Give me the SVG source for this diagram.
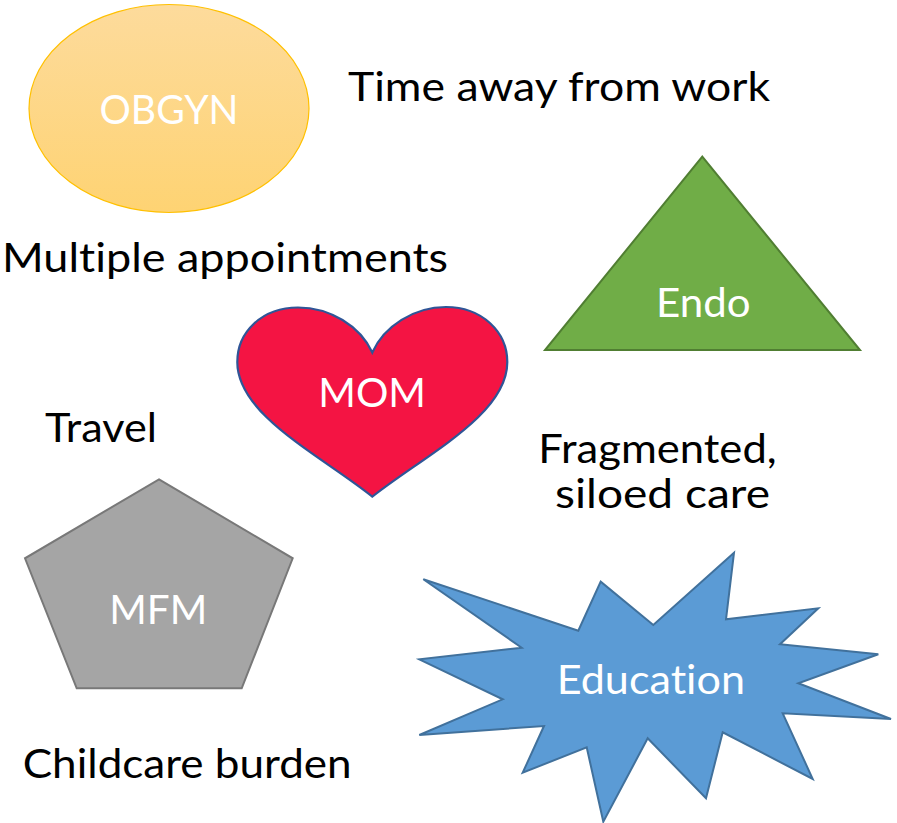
<svg xmlns="http://www.w3.org/2000/svg" width="897" height="823" viewBox="0 0 897 823">
  <style>
    text { font-family: Lato, "Open Sans", "Liberation Sans", sans-serif; font-size: 41px; font-variant-ligatures: none; }
    .lbl { fill: #000000; }
    .in { fill: #ffffff; }
  </style>
  <defs>
    <linearGradient id="obgynFill" x1="0" y1="0" x2="0" y2="1">
      <stop offset="0" stop-color="#fddb9c"/>
      <stop offset="1" stop-color="#fed373"/>
    </linearGradient>
  </defs>

  <rect width="897" height="823" fill="#ffffff"/>

  <!-- specialty shapes -->
  <g id="obgyn">
    <ellipse cx="169" cy="108.5" rx="140" ry="104" fill="url(#obgynFill)" stroke="#ffc000" stroke-width="1.2"/>
    <text class="in" x="99.5" y="124" textLength="139" lengthAdjust="spacingAndGlyphs">OBGYN</text>
  </g>

  <g id="endo">
    <polygon points="702.3,156.7 860,350 545,350" fill="#70ad47" stroke="#507e32" stroke-width="2"/>
    <text class="in" x="656" y="316.7" textLength="94.5" lengthAdjust="spacingAndGlyphs">Endo</text>
  </g>

  <g id="mom">
    <path d="M372.3,352.5 C360,326 330,307.5 298,307.5 C262,307.5 237.3,332 237.3,362 C237.3,415 320,455 372.3,496.7 C425,455 507.3,415 507.3,362 C507.3,332 482,307 446,307 C414,307 384,326 372.3,352.5 Z" fill="#f41443" stroke="#2f5597" stroke-width="2.2"/>
    <text class="in" x="318.3" y="407" textLength="107.7" lengthAdjust="spacingAndGlyphs">MOM</text>
  </g>

  <g id="mfm">
    <polygon points="159,479.3 292.7,558.3 241.7,688.3 76.7,688.3 25,558.3" fill="#a5a5a5" stroke="#787878" stroke-width="2"/>
    <text class="in" x="109.3" y="624" textLength="98" lengthAdjust="spacingAndGlyphs">MFM</text>
  </g>

  <g id="education">
    <polygon points="423.3,579.3 578.3,630.7 600.7,581.7 653.3,625 734,552.7 726,619.3 818.3,608.3 780,644.3 878.3,654.3 798.3,683.3 891,719 782.7,713.3 812.7,779 722.7,732.3 706,798.3 647.7,738.3 603.3,821.7 586.7,747.3 522.7,772.7 544,726 419.3,735 502.7,699.3 419.3,659.3 521.7,647.7" fill="#5b9bd5" stroke="#41719c" stroke-width="2" stroke-linejoin="miter"/>
    <text class="in" x="556.7" y="694.3" textLength="188.3" lengthAdjust="spacingAndGlyphs">Education</text>
  </g>

  <!-- burden labels -->
  <g id="time-away">
    <text class="lbl" x="348" y="100.5" textLength="422" lengthAdjust="spacingAndGlyphs">Time away from work</text>
  </g>
  <g id="multiple-appointments">
    <text class="lbl" x="2" y="271.7" textLength="446" lengthAdjust="spacingAndGlyphs">Multiple appointments</text>
  </g>
  <g id="travel">
    <text class="lbl" x="45" y="441.7" textLength="112" lengthAdjust="spacingAndGlyphs">Travel</text>
  </g>
  <g id="fragmented-care">
    <text class="lbl" x="538.3" y="462.7" textLength="238.4" lengthAdjust="spacingAndGlyphs">Fragmented,</text>
    <text class="lbl" x="555" y="508.3" textLength="215" lengthAdjust="spacingAndGlyphs">siloed care</text>
  </g>
  <g id="childcare">
    <text class="lbl" x="22.7" y="778.3" textLength="329" lengthAdjust="spacingAndGlyphs">Childcare burden</text>
  </g>
</svg>
